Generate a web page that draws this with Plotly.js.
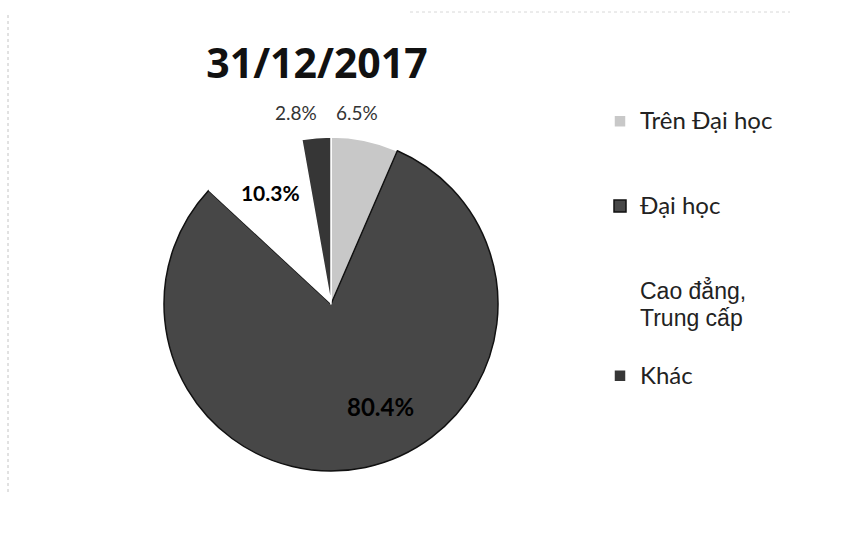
<!DOCTYPE html>
<html><head><meta charset="utf-8">
<script src="https://cdn.plot.ly/plotly-3.0.1.min.js"></script>
<style>html,body{margin:0;padding:0;background:#fff}#chart{width:846px;height:537px}</style>
</head><body><div id="chart"></div>
<script>
// ---- data ----
const categories = ["Trên Đại học", "Đại học", "Cao đẳng, Trung cấp", "Khác"];
const values = [6.5, 80.4, 10.3, 2.8];
const chartTitle = "31/12/2017";

// ---- styling ----
const sliceColors = ["#c8c8c8", "#474747", "#ffffff", "#363636"];
const sliceLines = ["#ffffff", "#111111", "rgba(0,0,0,0)", "#ffffff"];
const W = 846, H = 537;
const cx = 331, cy = 304, R = 167;

// legend labels: wrap at ", " and pad to 3 lines for spacing
const legendLabels = categories.map(c => {
  const parts = c.split(", ");
  const lines = parts.map((p, i) => i < parts.length - 1 ? p + "," : p);
  const fam = parts.length > 1 ? "Liberation Sans, Arial, sans-serif" : "Lato, sans-serif";
  const sz = parts.length > 1 ? 23 : 24;
  const styled = lines.map(l => `<span style="font-family:${fam};font-size:${sz}px">${l}</span>`);
  while (styled.length < 3) styled.push(" ");
  return styled.join("<br>");
});

// which slice labels the pie draws itself; the others are placed as annotations (text from values)
const nativeLabel = [false, false, true, false];
const labelPos = [[357, 112], [380, 406], null, [296, 112]];
const labelFont = [
  { family: "Lato, sans-serif", size: 19, color: "#333" },
  { family: "Lato, sans-serif", size: 24, color: "#000", weight: 700 },
  null,
  { family: "Lato, sans-serif", size: 19, color: "#333" }
];
const pct = v => v.toFixed(1) + "%";

const trace = {
  type: "pie",
  labels: legendLabels,
  values: values,
  sort: false,
  direction: "clockwise",
  rotation: 0,
  marker: { colors: sliceColors, line: { color: sliceLines, width: 1.5 } },
  texttemplate: "%{percent:.1%}",
  textposition: nativeLabel.map(n => n ? "inside" : "none"),
  insidetextorientation: "horizontal",
  insidetextfont: { family: "Lato, sans-serif", size: 21, color: "#000", weight: 700 },
  domain: { x: [(cx - R) / W, (cx + R) / W], y: [1 - (cy + R) / H, 1 - (cy - R) / H] },
  hoverinfo: "percent",
  automargin: false
};

const annotations = values.map((v, i) => nativeLabel[i] ? null : ({
  text: pct(v), xref: "paper", yref: "paper",
  x: labelPos[i][0] / W, y: 1 - labelPos[i][1] / H,
  xanchor: "center", yanchor: "middle", showarrow: false, font: labelFont[i]
})).filter(a => a);

const layout = {
  width: W, height: H,
  margin: { l: 0, r: 0, t: 0, b: 0 },
  paper_bgcolor: "#ffffff",
  title: {
    text: chartTitle,
    font: { family: "Open Sans, sans-serif", size: 41, color: "#111", weight: 700 },
    x: 317 / W, xanchor: "center", y: 1 - 64 / H, yanchor: "middle", xref: "paper", yref: "container"
  },
  legend: {
    x: 600 / W, xanchor: "left", y: 1 - 101 / H, yanchor: "top",
    font: { family: "Lato, sans-serif", size: 21, color: "#222" },
    valign: "top", itemwidth: 30, bgcolor: "rgba(0,0,0,0)"
  },
  annotations: annotations,
  shapes: [
    { type: "line", xref: "paper", yref: "paper", x0: 8 / W, x1: 8 / W, y0: 1 - 15 / H, y1: 1 - 495 / H,
      line: { color: "#c4c4c4", width: 1, dash: "dot" } },
    { type: "line", xref: "paper", yref: "paper", x0: 410 / W, x1: 790 / W, y0: 1 - 12 / H, y1: 1 - 12 / H,
      line: { color: "#d8d8d8", width: 1, dash: "dot" } }
  ]
};

Plotly.newPlot("chart", [trace], layout, { displayModeBar: false, staticPlot: true });
</script>
</body></html>
